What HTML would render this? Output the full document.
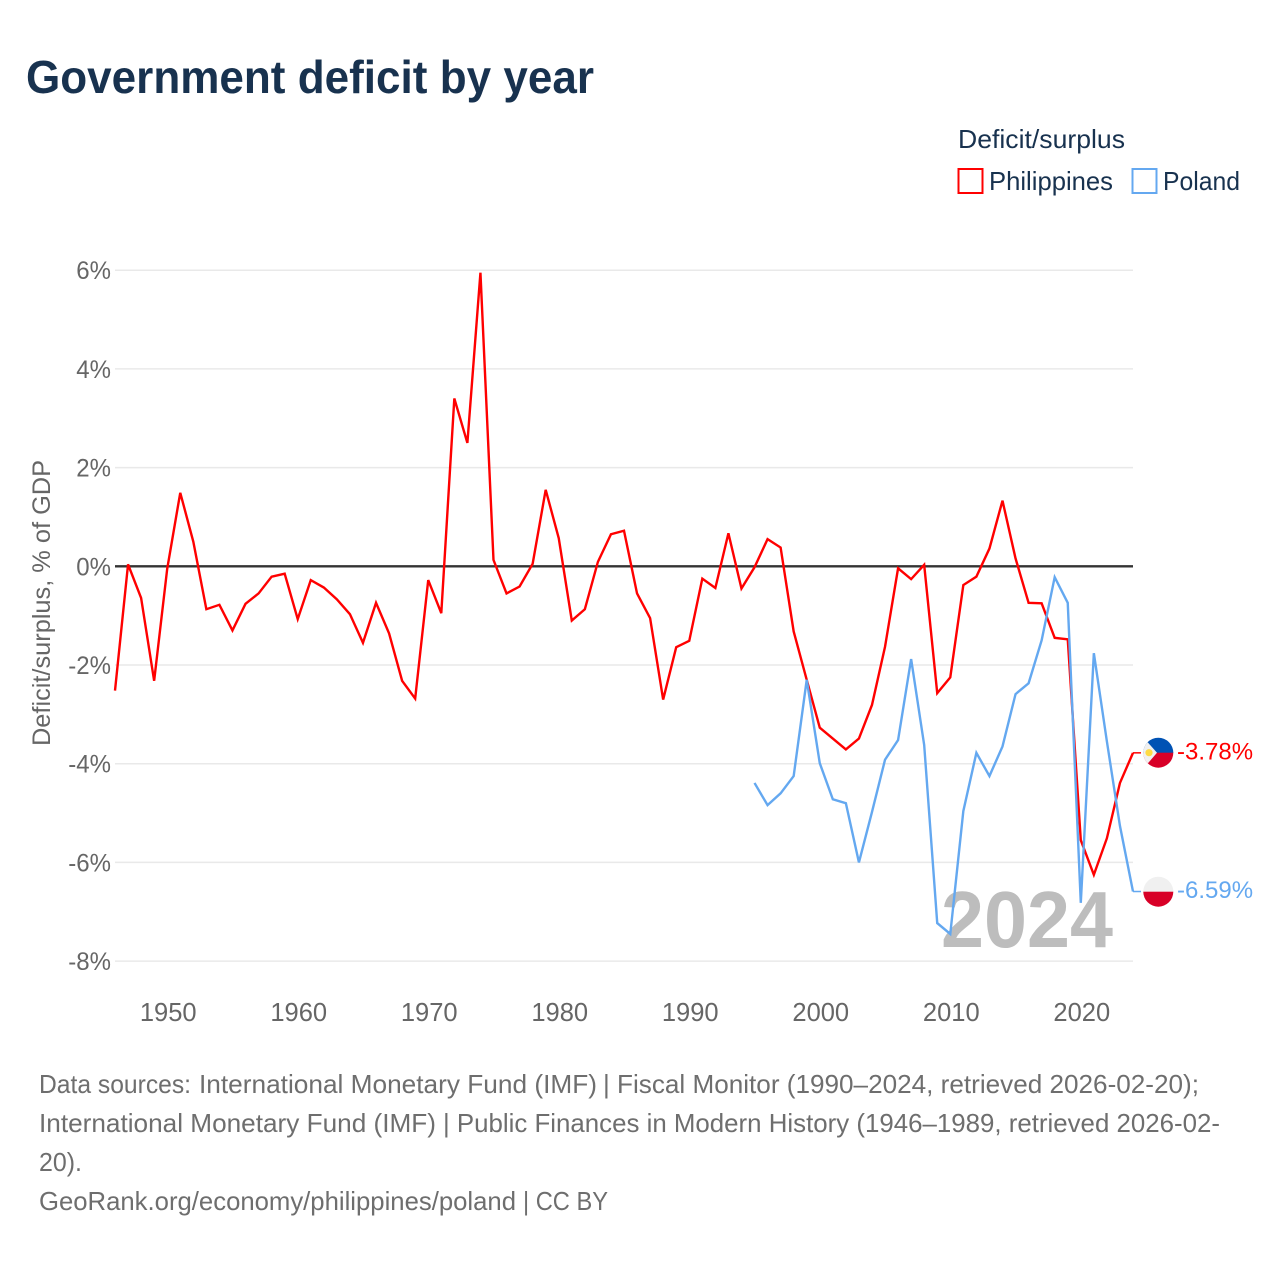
<!DOCTYPE html>
<html lang="en">
<head>
<meta charset="utf-8">
<title>Government deficit by year</title>
<style>
html,body{margin:0;padding:0;background:#fff}
svg{display:block}
text{font-family:"Liberation Sans",Arial,sans-serif}
</style>
</head>
<body>
<svg id="chart" xmlns="http://www.w3.org/2000/svg" width="1280" height="1280" viewBox="0 0 1280 1280">
  <defs>
    <clipPath id="clip-ph"><circle cx="1158.3" cy="752.7" r="15"/></clipPath>
    <clipPath id="clip-pl"><circle cx="1158.3" cy="891.7" r="15"/></clipPath>
  </defs>
  <rect width="1280" height="1280" fill="#fff"/>
  <text x="26" y="93" font-size="46" font-weight="700" fill="#18324f" textLength="568" lengthAdjust="spacingAndGlyphs">Government deficit by year</text>

  <g>
    <text x="958" y="148" font-size="26" fill="#18324f" textLength="167" lengthAdjust="spacingAndGlyphs">Deficit/surplus</text>
    <rect x="958.5" y="169" width="24" height="24" fill="#fff" stroke="#ff0000" stroke-width="2"/>
    <text x="989" y="190" font-size="26" fill="#18324f" textLength="124" lengthAdjust="spacingAndGlyphs">Philippines</text>
    <rect x="1132.5" y="169" width="24" height="24" fill="#fff" stroke="#64a8f0" stroke-width="2"/>
    <text x="1163" y="190" font-size="26" fill="#18324f" textLength="77" lengthAdjust="spacingAndGlyphs">Poland</text>
  </g>

  <text transform="translate(50,603) rotate(-90)" text-anchor="middle" font-size="25" fill="#666" textLength="286" lengthAdjust="spacingAndGlyphs">Deficit/surplus, % of GDP</text>

  <g id="y-grid"></g>
  <g id="x-ticks"></g>

  <text x="941" y="947" font-size="80" font-weight="700" fill="#bdbdbd" textLength="172" lengthAdjust="spacingAndGlyphs">2024</text>

  <g id="series"></g>

  <g clip-path="url(#clip-ph)">
    <rect x="1143" y="737" width="31" height="16" fill="#0052b4"/>
    <rect x="1143" y="752.7" width="31" height="16" fill="#d80027"/>
    <polygon points="1143,737 1143,769 1157,752.7" fill="#f0f0f0"/>
    <circle cx="1149" cy="752.7" r="3.6" fill="#ffda44"/>
  </g>
  <g clip-path="url(#clip-pl)">
    <rect x="1143" y="876" width="31" height="16" fill="#f0f0f0"/>
    <rect x="1143" y="891.7" width="31" height="16" fill="#d80027"/>
  </g>

  <g font-size="26" fill="#6e6e6e">
    <text x="39" y="1093" textLength="152" lengthAdjust="spacingAndGlyphs">Data sources:</text>
    <text x="199" y="1093" textLength="398" lengthAdjust="spacingAndGlyphs">International Monetary Fund (IMF)</text>
    <text x="603" y="1093" textLength="596" lengthAdjust="spacingAndGlyphs">| Fiscal Monitor (1990–2024, retrieved 2026-02-20);</text>
    <text x="39" y="1132" textLength="397" lengthAdjust="spacingAndGlyphs">International Monetary Fund (IMF)</text>
    <text x="443" y="1132" textLength="777" lengthAdjust="spacingAndGlyphs">| Public Finances in Modern History (1946–1989, retrieved 2026-02-</text>
    <text x="39" y="1171" textLength="43" lengthAdjust="spacingAndGlyphs">20).</text>
    <text x="39" y="1210" textLength="477" lengthAdjust="spacingAndGlyphs">GeoRank.org/economy/philippines/poland</text>
    <text x="523" y="1210" textLength="85" lengthAdjust="spacingAndGlyphs">| CC BY</text>
  </g>
</svg>
<script>
const years = [1946,1947,1948,1949,1950,1951,1952,1953,1954,1955,1956,1957,1958,1959,1960,1961,1962,1963,1964,1965,1966,1967,1968,1969,1970,1971,1972,1973,1974,1975,1976,1977,1978,1979,1980,1981,1982,1983,1984,1985,1986,1987,1988,1989,1990,1991,1992,1993,1994,1995,1996,1997,1998,1999,2000,2001,2002,2003,2004,2005,2006,2007,2008,2009,2010,2011,2012,2013,2014,2015,2016,2017,2018,2019,2020,2021,2022,2023,2024];
const philippinesValues = [-2.52,0.04,-0.64,-2.32,-0.05,1.49,0.5,-0.87,-0.78,-1.3,-0.76,-0.55,-0.21,-0.15,-1.07,-0.28,-0.43,-0.67,-0.97,-1.55,-0.74,-1.36,-2.32,-2.68,-0.28,-0.95,3.4,2.5,5.95,0.13,-0.55,-0.41,0.05,1.55,0.57,-1.1,-0.87,0.09,0.65,0.72,-0.55,-1.05,-2.7,-1.64,-1.51,-0.25,-0.44,0.67,-0.45,-0.02,0.55,0.38,-1.32,-2.3,-3.27,-3.49,-3.71,-3.49,-2.81,-1.63,-0.04,-0.26,0.03,-2.57,-2.25,-0.38,-0.21,0.36,1.33,0.16,-0.74,-0.75,-1.45,-1.48,-5.55,-6.25,-5.51,-4.39,-3.78];
const polandYears = [1995,1996,1997,1998,1999,2000,2001,2002,2003,2004,2005,2006,2007,2008,2009,2010,2011,2012,2013,2014,2015,2016,2017,2018,2019,2020,2021,2022,2023,2024];
const polandValues = [-4.39,-4.84,-4.6,-4.25,-2.3,-3.99,-4.72,-4.8,-6.0,-4.98,-3.92,-3.52,-1.88,-3.62,-7.23,-7.45,-4.96,-3.78,-4.25,-3.65,-2.59,-2.37,-1.5,-0.22,-0.74,-6.82,-1.76,-3.55,-5.26,-6.59];
const yTicks = [6,4,2,0,-2,-4,-6,-8];
const xTicks = [1950,1960,1970,1980,1990,2000,2010,2020];

function xScale(year){ return 115 + (year - 1946) * (1133 - 115) / (2024 - 1946); }
function yScale(v){ return 566.3 - v * 49.35; }
const NS = 'http://www.w3.org/2000/svg';
function make(tag, attrs, parent){
  const el = document.createElementNS(NS, tag);
  for (const k in attrs) el.setAttribute(k, attrs[k]);
  parent.appendChild(el);
  return el;
}
const gridG = document.getElementById('y-grid');
yTicks.forEach(function(t){
  const line = make('line', {x1:115, x2:1133, y1:yScale(t), y2:yScale(t), stroke:'#e9e9e9', 'stroke-width':1.5}, gridG);
  
  
  const label = make('text', {x:111, y:yScale(t)+9, 'text-anchor':'end', 'font-size':25, fill:'#666'}, gridG);
  
  
  label.textContent = t + '%';
  label.setAttribute('textLength', (label.getComputedTextLength() * 0.96).toFixed(1));
  label.setAttribute('lengthAdjust', 'spacingAndGlyphs');
});
const zero = make('line', {x1:115, x2:1133, y1:yScale(0), y2:yScale(0), stroke:'#333', 'stroke-width':2.4}, gridG);



const xG = document.getElementById('x-ticks');
xTicks.forEach(function(t){
  const label = make('text', {x:xScale(t)+1, y:1021, 'text-anchor':'middle', 'font-size':25.5, fill:'#666'}, xG);
  
  
  label.textContent = t;
});

const seriesG = document.getElementById('series');
function drawSeries(xs, vs, color, name){
  const pts = xs.map(function(y, i){ return xScale(y).toFixed(2) + ',' + yScale(vs[i]).toFixed(2); });
  const poly = make('polyline', {points:pts.join(' '), fill:'none', stroke:color, 'stroke-width':2.4, 'stroke-linejoin':'miter'}, seriesG);
  
  
  const lastX = xScale(xs[xs.length-1]);
  const lastV = vs[vs.length-1];
  const conn = make('line', {x1:lastX, x2:lastX+8, y1:yScale(lastV), y2:yScale(lastV), stroke:color, 'stroke-width':1.5}, seriesG);
  
  
  const label = make('text', {x:1177, y:yScale(lastV)+6.5, 'font-size':24, fill:color}, seriesG);
  
  
  label.textContent = lastV.toFixed(2) + '%';
}
drawSeries(years, philippinesValues, '#ff0000', 'philippines');
drawSeries(polandYears, polandValues, '#64a8f0', 'poland');
</script>
</body>
</html>
